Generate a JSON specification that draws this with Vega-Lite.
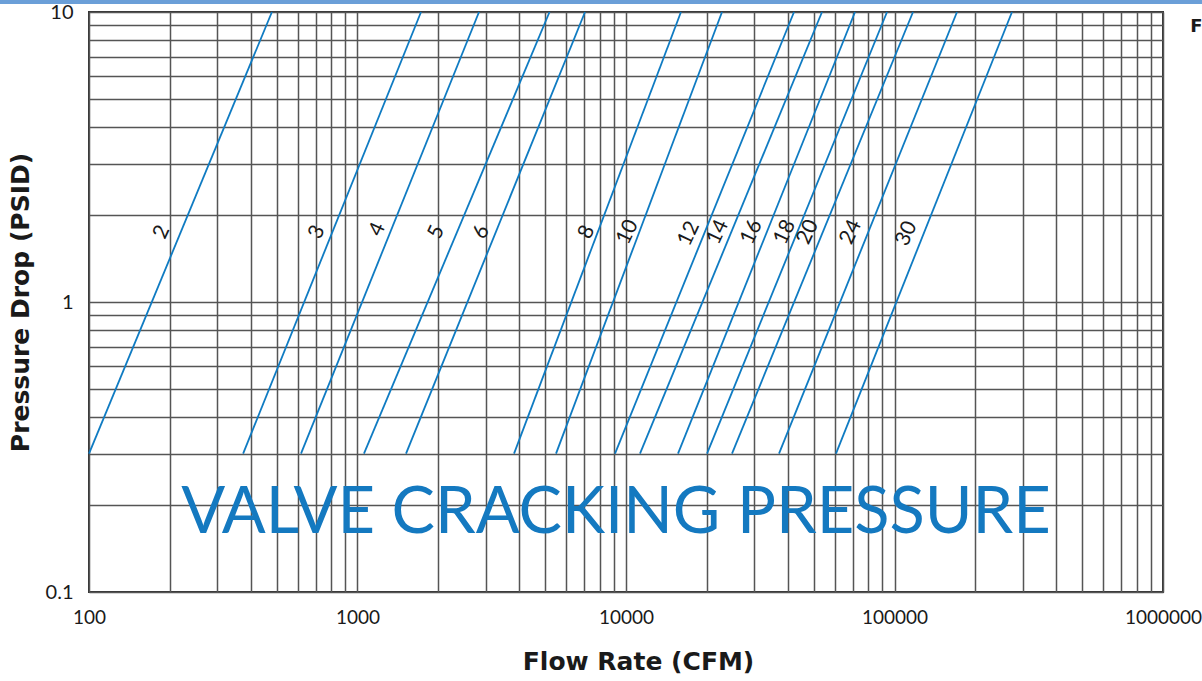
{
  "$schema": "https://vega.github.io/schema/vega-lite/v6.json",
  "width": 1074,
  "height": 580,
  "autosize": {"type": "none"},
  "padding": {"left": 89, "top": 12, "right": 39, "bottom": 89},
  "background": "white",
  "config": {
    "view": {"stroke": "#333333", "strokeWidth": 2},
    "font": "Lato",
    "mark": {"clip": false}
  },
  "datasets": {
    "lines": [
      {"size": "2", "Q": 100, "p": 0.3}, {"size": "2", "Q": 480, "p": 10},
      {"size": "3", "Q": 375, "p": 0.3}, {"size": "3", "Q": 1724, "p": 10},
      {"size": "4", "Q": 616, "p": 0.3}, {"size": "4", "Q": 2835, "p": 10},
      {"size": "5", "Q": 1057, "p": 0.3}, {"size": "5", "Q": 5190, "p": 10},
      {"size": "6", "Q": 1516, "p": 0.3}, {"size": "6", "Q": 7036, "p": 10},
      {"size": "8", "Q": 3828, "p": 0.3}, {"size": "8", "Q": 16020, "p": 10},
      {"size": "10", "Q": 5487, "p": 0.3}, {"size": "10", "Q": 22780, "p": 10},
      {"size": "12", "Q": 9100, "p": 0.3}, {"size": "12", "Q": 42240, "p": 10},
      {"size": "14", "Q": 11275, "p": 0.3}, {"size": "14", "Q": 53700, "p": 10},
      {"size": "16", "Q": 15620, "p": 0.3}, {"size": "16", "Q": 71270, "p": 10},
      {"size": "18", "Q": 20030, "p": 0.3}, {"size": "18", "Q": 93780, "p": 10},
      {"size": "20", "Q": 24820, "p": 0.3}, {"size": "20", "Q": 117200, "p": 10},
      {"size": "24", "Q": 37140, "p": 0.3}, {"size": "24", "Q": 170900, "p": 10},
      {"size": "30", "Q": 60540, "p": 0.3}, {"size": "30", "Q": 273900, "p": 10}
    ],
    "labels": [
      {"size": "2", "Q": 187, "p": 1.74},
      {"size": "3", "Q": 707, "p": 1.74},
      {"size": "4", "Q": 1189, "p": 1.78},
      {"size": "5", "Q": 1972, "p": 1.74},
      {"size": "6", "Q": 2901, "p": 1.74},
      {"size": "8", "Q": 7157, "p": 1.74},
      {"size": "10", "Q": 10150, "p": 1.74},
      {"size": "12", "Q": 17160, "p": 1.72},
      {"size": "14", "Q": 22000, "p": 1.74},
      {"size": "16", "Q": 29390, "p": 1.74},
      {"size": "18", "Q": 39100, "p": 1.74},
      {"size": "20", "Q": 47620, "p": 1.74},
      {"size": "24", "Q": 68870, "p": 1.74},
      {"size": "30", "Q": 111000, "p": 1.72}
    ],
    "notes": [
      {"text": "VALVE CRACKING PRESSURE", "Q": 9180, "p": 0.187}
    ],
    "corner": [
      {"text": "F", "Q": 1262000, "p": 8.88}
    ],
    "band": [
      {"Q1": 30, "Q2": 10000000, "p": 10.83}
    ]
  },
  "layer": [
    {
      "data": {"name": "lines"},
      "mark": {"type": "line", "color": "#0f7bc2", "strokeWidth": 1.8},
      "encoding": {
        "x": {
          "field": "Q", "type": "quantitative",
          "scale": {"type": "log", "domain": [100, 1000000], "nice": false},
          "axis": {
            "title": "Flow Rate (CFM)",
            "values": [100,200,300,400,500,600,700,800,900,1000,2000,3000,4000,5000,6000,7000,8000,9000,10000,20000,30000,40000,50000,60000,70000,80000,90000,100000,200000,300000,400000,500000,600000,700000,800000,900000,1000000],
            "labelExpr": "indexof([100,1000,10000,100000,1000000], datum.value) >= 0 ? format(datum.value, 'd') : ''",
            "labelFont": "Lato", "labelFontSize": 19, "labelColor": "#1a1a1a",
            "labelPadding": 16, "labelFlush": false, "labelOverlap": false,
            "ticks": false, "domain": false,
            "grid": true, "gridColor": "#555555", "gridWidth": 1.5, "gridOpacity": 1,
            "titleFont": "DejaVu Sans", "titleFontWeight": "bold", "titleFontSize": 25, "titleColor": "#1a1a1a",
            "titleX": 549, "titleY": 69, "titleBaseline": "middle", "titleAlign": "center"
          }
        },
        "y": {
          "field": "p", "type": "quantitative",
          "scale": {"type": "log", "domain": [0.1, 10], "nice": false},
          "axis": {
            "title": "Pressure Drop (PSID)",
            "values": [0.1,0.2,0.3,0.4,0.5,0.6,0.7,0.8,0.9,1,2,3,4,5,6,7,8,9,10],
            "labelExpr": "datum.value == 0.1 ? '0.1' : datum.value == 1 ? '1' : datum.value == 10 ? '10' : ''",
            "labelFont": "Lato", "labelFontSize": 20, "labelColor": "#1a1a1a",
            "labelPadding": 16, "labelFlush": false, "labelOverlap": false,
            "ticks": false, "domain": false,
            "grid": true, "gridColor": "#555555", "gridWidth": 1.5, "gridOpacity": 1,
            "titleFont": "DejaVu Sans", "titleFontWeight": "bold", "titleFontSize": 25, "titleColor": "#1a1a1a",
            "titleX": -69, "titleY": 290, "titleAngle": -90, "titleBaseline": "middle", "titleAlign": "center"
          }
        },
        "detail": {"field": "size", "type": "nominal"}
      }
    },
    {
      "mark": {"type": "rule", "color": "#0f7bc2", "strokeWidth": 2.6},
      "encoding": {"y": {"datum": 0.3}}
    },
    {
      "data": {"name": "labels"},
      "mark": {"type": "text", "font": "Lato", "fontSize": 21, "angle": -65, "color": "#1a1a1a", "align": "center", "baseline": "middle"},
      "encoding": {
        "x": {"field": "Q", "type": "quantitative"},
        "y": {"field": "p", "type": "quantitative"},
        "text": {"field": "size"}
      }
    },
    {
      "data": {"name": "notes"},
      "mark": {"type": "text", "font": "Lato", "fontSize": 65, "color": "#1479c0", "align": "center", "baseline": "middle"},
      "encoding": {
        "x": {"field": "Q", "type": "quantitative"},
        "y": {"field": "p", "type": "quantitative"},
        "text": {"field": "text"}
      }
    },
    {
      "data": {"name": "band"},
      "mark": {"type": "rule", "color": "#6b9fd8", "strokeWidth": 4, "clip": false},
      "encoding": {
        "x": {"field": "Q1", "type": "quantitative"},
        "x2": {"field": "Q2"},
        "y": {"field": "p", "type": "quantitative"}
      }
    },
    {
      "data": {"name": "corner"},
      "mark": {"type": "text", "font": "DejaVu Sans", "fontWeight": "bold", "fontSize": 18, "color": "#1a1a1a", "align": "left", "baseline": "middle", "clip": false},
      "encoding": {
        "x": {"field": "Q", "type": "quantitative"},
        "y": {"field": "p", "type": "quantitative"},
        "text": {"field": "text"}
      }
    }
  ]
}
